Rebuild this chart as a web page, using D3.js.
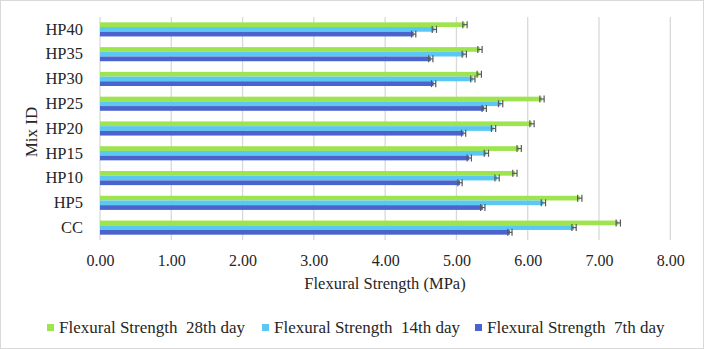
<!DOCTYPE html>
<html>
<head>
<meta charset="utf-8">
<script src="https://cdn.jsdelivr.net/npm/d3@7"></script>
<style>
  body { margin: 0; background: #fff; }
  svg text { font-family: "Liberation Serif", "Times New Roman", serif; }
</style>
</head>
<body>
<svg id="chart" width="704" height="349"></svg>
<script>
// Width and height
var w = 704;
var h = 349;

// categories, top to bottom as drawn
var mixes = ["HP40", "HP35", "HP30", "HP25", "HP20", "HP15", "HP10", "HP5", "CC"];
var series = ["Flexural Strength  28th day", "Flexural Strength  14th day", "Flexural Strength  7th day"];
var colors = ["#9de44f", "#5bc8f3", "#4b63cc"];

// values in MPa, same order as mixes
var day28 = [5.12, 5.33, 5.32, 6.20, 6.06, 5.88, 5.82, 6.73, 7.27];
var day14 = [4.69, 5.11, 5.23, 5.62, 5.52, 5.42, 5.57, 6.22, 6.65];
var day7  = [4.40, 4.64, 4.68, 5.39, 5.10, 5.18, 5.05, 5.37, 5.75];
var errs  = [0.03, 0.03, 0.03];

var xTicks = [0, 1, 2, 3, 4, 5, 6, 7, 8];

var svg = d3.select("#chart");

// outer border
svg.append("rect")
   .attr("x", 0.5).attr("y", 0.5)
   .attr("width", w - 1).attr("height", h - 1)
   .attr("fill", "#fff")
   .attr("stroke", "#d9d9d9");

var x = d3.scaleLinear().domain([0, 8]).range([100, 670.3]);
var y = d3.scaleBand().domain(mixes).range([17, 240]).paddingInner(0.43).paddingOuter(0.215);
var ySub = d3.scaleBand().domain(d3.range(series.length)).range([0, y.bandwidth()]);

// gridlines
svg.append("g")
   .selectAll("line")
   .data(xTicks)
   .enter()
   .append("line")
   .attr("x1", function(d) { return x(d); })
   .attr("x2", function(d) { return x(d); })
   .attr("y1", 17)
   .attr("y2", 240)
   .attr("stroke", "#d9d9d9")
   .attr("stroke-width", 1.3);

// x axis labels
var xAxis = d3.axisBottom(x)
   .tickValues(xTicks)
   .tickSize(0)
   .tickPadding(14)
   .tickFormat(d3.format(".2f"));

var gx = svg.append("g")
   .attr("transform", "translate(0,240)")
   .call(xAxis);
gx.select(".domain").remove();
gx.attr("font-family", null).attr("font-size", null);
gx.selectAll("text")
  .attr("dy", null)
  .attr("y", 26)
  .style("font-size", "16px")
  .attr("fill", "#262626");

// y axis labels
var yAxis = d3.axisLeft(y).tickSize(0).tickPadding(17);
var gy = svg.append("g")
   .attr("transform", "translate(100,0)")
   .call(yAxis);
gy.select(".domain").remove();
gy.attr("font-family", null).attr("font-size", null);
gy.selectAll("text")
  .attr("x", -17)
  .style("font-size", "16.5px")
  .attr("fill", "#262626");

// bars
var allSeries = [day28, day14, day7];
var rows = [];
allSeries.forEach(function(vals, s) {
    vals.forEach(function(v, i) {
        rows.push({ s: s, mix: mixes[i], v: v, e: errs[s] });
    });
});

svg.append("g")
   .selectAll("rect")
   .data(rows)
   .enter()
   .append("rect")
   .attr("x", x(0))
   .attr("y", function(d) { return y(d.mix) + ySub(d.s); })
   .attr("width", function(d) { return x(d.v) - x(0); })
   .attr("height", ySub.bandwidth())
   .attr("fill", function(d) { return colors[d.s]; });

// error bars
var eb = svg.append("g")
   .selectAll("g")
   .data(rows)
   .enter()
   .append("g")
   .attr("stroke", "#595959")
   .attr("stroke-width", 1.2);

function midY(d) { return y(d.mix) + ySub(d.s) + ySub.bandwidth() / 2; }

eb.append("line")
  .attr("x1", function(d) { return x(d.v - d.e); })
  .attr("x2", function(d) { return x(d.v + d.e); })
  .attr("y1", midY)
  .attr("y2", midY);

[-1, 1].forEach(function(sign) {
    eb.append("line")
      .attr("x1", function(d) { return x(d.v + sign * d.e); })
      .attr("x2", function(d) { return x(d.v + sign * d.e); })
      .attr("y1", function(d) { return midY(d) - 3.5; })
      .attr("y2", function(d) { return midY(d) + 3.5; });
});

// axis titles
svg.append("text")
   .text("Flexural Strength (MPa)")
   .attr("x", 385)
   .attr("y", 289)
   .attr("text-anchor", "middle")
   .style("font-size", "16.5px")
   .attr("fill", "#262626");

svg.append("text")
   .text("Mix ID")
   .attr("transform", "translate(37,132) rotate(-90)")
   .attr("text-anchor", "middle")
   .style("font-size", "17px")
   .attr("fill", "#262626");

// legend
var legendX = [47, 262, 475];
var lg = svg.append("g")
   .selectAll("g")
   .data(series)
   .enter()
   .append("g")
   .attr("transform", function(d, i) { return "translate(" + legendX[i] + ",333)"; });

lg.append("rect")
  .attr("x", 0).attr("y", -9)
  .attr("width", 7).attr("height", 7)
  .attr("fill", function(d, i) { return colors[i]; });

lg.append("text")
  .text(function(d) { return d; })
  .attr("x", 12)
  .attr("y", 0)
  .style("font-size", "17px")
  .style("white-space", "pre")
  .attr("fill", "#262626");
</script>
</body>
</html>
